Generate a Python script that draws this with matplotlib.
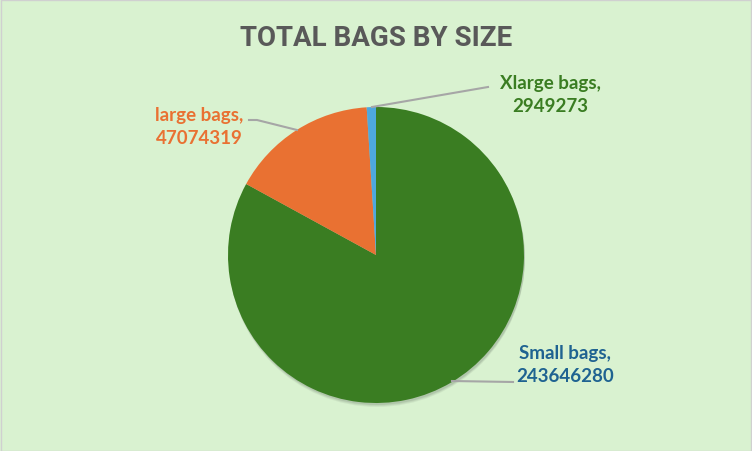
import matplotlib.pyplot as plt
from matplotlib.patches import Rectangle

labels = ['Small bags', 'large bags', 'Xlarge bags']
values = [243646280, 47074319, 2949273]
slice_colors = ['#3A7D22', '#E97132', '#4EA8DE']
label_colors = ['#1F6391', '#E97132', '#3A7D22']

W, H = 752, 452
fig = plt.figure(figsize=(W / 100, H / 100), dpi=100)
fig.patch.set_facecolor('#D9F2D0')
ax = fig.add_axes([0, 0, 1, 1])
ax.set_xlim(0, W)
ax.set_ylim(0, H)
ax.set_aspect('equal')
ax.axis('off')

def fy(y):
    return H - y

# border
ax.add_patch(Rectangle((0.5, 0.5), W - 1, H - 1, fill=False, edgecolor='#D0D0D0', linewidth=1))

cx, cy, r = 376, fy(256), 148

# soft shadow
for k, a in [(4, 0.05), (3, 0.06), (2, 0.08)]:
    ax.add_patch(plt.Circle((cx + 1, cy - k), r, color='black', alpha=a, linewidth=0))

ax.pie(values, colors=slice_colors, startangle=90, counterclock=False,
       center=(cx, cy), radius=r, frame=True,
       wedgeprops=dict(linewidth=0))
ax.set_xlim(0, W)
ax.set_ylim(0, H)
ax.axis('off')

ax.text(376, fy(38), 'TOTAL BAGS BY SIZE', ha='center', va='center',
        fontsize=20, fontweight='bold', color='#595959', family='Roboto')

# label positions (centre of text block) and leader lines
label_pos = [(565, 365), (199, 127), (550, 95)]
leaders = [[(452, 382), (513, 383)],
           [(249, 121), (257, 121), (297, 131)],
           [(372, 108), (488, 88)]]

for i in range(len(values)):
    x, y = label_pos[i]
    ax.text(x, fy(y), labels[i] + ',\n' + str(values[i]), ha='center', va='center',
            fontsize=13.5, fontweight='bold', color=label_colors[i],
            family='Lato', linespacing=1.45)
    xs = [p[0] for p in leaders[i]]
    ys = [fy(p[1]) for p in leaders[i]]
    ax.plot(xs, ys, color='#A6A6A6', linewidth=1.5)

fig.savefig('out.png', dpi=100, facecolor=fig.get_facecolor())
